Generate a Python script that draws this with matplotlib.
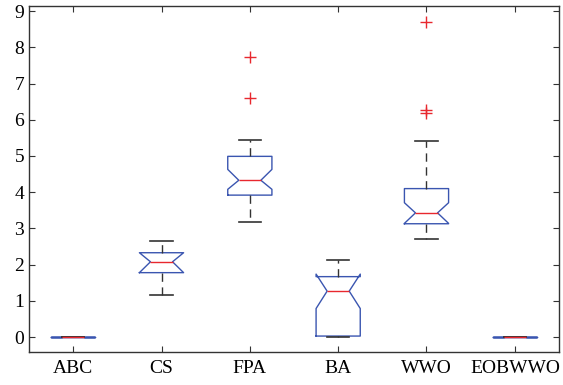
import matplotlib.pyplot as plt

# box statistics per algorithm
labels = ["ABC", "CS", "FPA", "BA", "WWO", "EOBWWO"]
whislo = [0.0, 1.15, 3.18, 0.0, 2.72, 0.0]
q1 = [0.0, 1.78, 3.92, 0.03, 3.13, 0.0]
med = [0.0, 2.08, 4.33, 1.27, 3.43, 0.0]
q3 = [0.0, 2.33, 4.99, 1.67, 4.10, 0.0]
whishi = [0.0, 2.65, 5.45, 2.13, 5.41, 0.0]
cilo = [0.0, 1.78, 4.08, 0.79, 3.14, 0.0]
cihi = [0.0, 2.33, 4.63, 1.74, 3.71, 0.0]
fliers = [[], [], [7.72, 6.59], [], [8.71, 6.27, 6.20], []]

plt.rcParams['font.family'] = ['Liberation Serif', 'DejaVu Serif']

stats = []
for i in range(len(labels)):
    stats.append({
        "label": labels[i],
        "whislo": whislo[i], "q1": q1[i], "med": med[i],
        "q3": q3[i], "whishi": whishi[i],
        "cilo": cilo[i], "cihi": cihi[i],
        "fliers": fliers[i],
    })

fig = plt.figure(figsize=(5.63, 3.85), dpi=100)
ax = fig.add_axes([29 / 563, 1 - 352 / 385, 530 / 563, 346 / 385])

blue = "#3a55b0"
ax.bxp(
    stats, widths=0.5, shownotches=True,
    boxprops=dict(color=blue, linewidth=1.0),
    medianprops=dict(color="#e8282e", linewidth=1.0),
    whiskerprops=dict(color="#333333", linewidth=1.0, linestyle=(0, (6, 4))),
    capprops=dict(color="#333333", linewidth=1.2),
    flierprops=dict(marker="+", markeredgecolor="#e8282e", markersize=8,
                    markeredgewidth=1.0, linestyle="none"),
)

ax.set_xlim(0.5, 6.5)
ax.set_ylim(-0.41, 9.14)
ax.set_yticks(range(10))
ax.tick_params(direction="in", top=True, right=True, labelsize=14,
               length=4, color="#333333")
ax.tick_params(axis="x", pad=6)
for sp in ax.spines.values():
    sp.set_color("#333333")
    sp.set_linewidth(1.0)

fig.savefig("out.png", dpi=100)
